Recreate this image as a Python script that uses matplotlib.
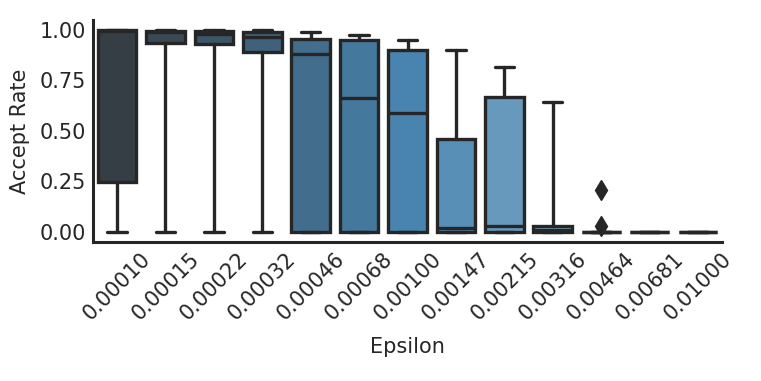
# Boxplot of accept rate per epsilon
import numpy as np
import matplotlib.pyplot as plt
import seaborn as sns

# Data
epsilons = ['0.00010', '0.00015', '0.00022', '0.00032', '0.00046', '0.00068', '0.00100',
            '0.00147', '0.00215', '0.00316', '0.00464', '0.00681', '0.01000']
whislo = [0, 0, 0, 0, 0, 0, 0, 0, 0, 0, 0, 0, 0]
q1 = [0.245, 0.935, 0.932, 0.89, 0, 0, 0, 0, 0, 0, 0, 0, 0]
med = [0.993, 0.99, 0.982, 0.965, 0.882, 0.662, 0.587, 0.017, 0.028, 0.008, 0, 0, 0]
q3 = [1.0, 0.997, 0.997, 0.99, 0.957, 0.949, 0.899, 0.459, 0.670, 0.027, 0, 0, 0]
whishi = [1.0, 1.0, 1.0, 0.998, 0.99, 0.974, 0.949, 0.899, 0.816, 0.642, 0, 0, 0]
fliers = [[], [], [], [], [], [], [], [], [], [], [0.205, 0.03], [], []]

sns.set_style('white')
plt.rcParams['font.family'] = ['DejaVu Sans']

stats = []
for i in range(len(epsilons)):
    stats.append({'whislo': whislo[i], 'q1': q1[i], 'med': med[i], 'q3': q3[i],
                  'whishi': whishi[i], 'fliers': fliers[i]})

colors = sns.color_palette('Blues_d', len(epsilons))[::-1]
colors = [sns.desaturate(c, 0.75) for c in colors]

fig = plt.figure(figsize=(7.61, 3.81), dpi=100)
ax = fig.add_axes([0.122, 0.365, 0.827, 0.583])

line_col = '#262626'
lw = 2.4
bp = ax.bxp(stats, positions=np.arange(len(epsilons)), widths=0.8, patch_artist=True,
            capwidths=0.4,
            boxprops=dict(edgecolor=line_col, linewidth=lw),
            medianprops=dict(color=line_col, linewidth=lw),
            whiskerprops=dict(color=line_col, linewidth=lw),
            capprops=dict(color=line_col, linewidth=lw),
            flierprops=dict(marker='d', markerfacecolor=line_col, markeredgecolor=line_col,
                            markersize=10))
for patch, c in zip(bp['boxes'], colors):
    patch.set_facecolor(c)

ax.set_xlim(-0.5, len(epsilons) - 0.5)
ax.set_ylim(-0.05, 1.05)
ax.set_yticks([0, 0.25, 0.5, 0.75, 1.0])
ax.set_yticklabels(['0.00', '0.25', '0.50', '0.75', '1.00'])
ax.set_xticks(np.arange(len(epsilons)))
ax.set_xticklabels(epsilons, rotation=45)
ax.tick_params(labelsize=15, colors=line_col, length=0, pad=5)
ax.set_xlabel('Epsilon', fontsize=15, color=line_col, labelpad=9)
ax.set_ylabel('Accept Rate', fontsize=15, color=line_col, labelpad=7)
for s in ['left', 'bottom']:
    ax.spines[s].set_linewidth(2.2)
    ax.spines[s].set_color(line_col)
sns.despine(ax=ax)

fig.savefig('out.png', dpi=100)
